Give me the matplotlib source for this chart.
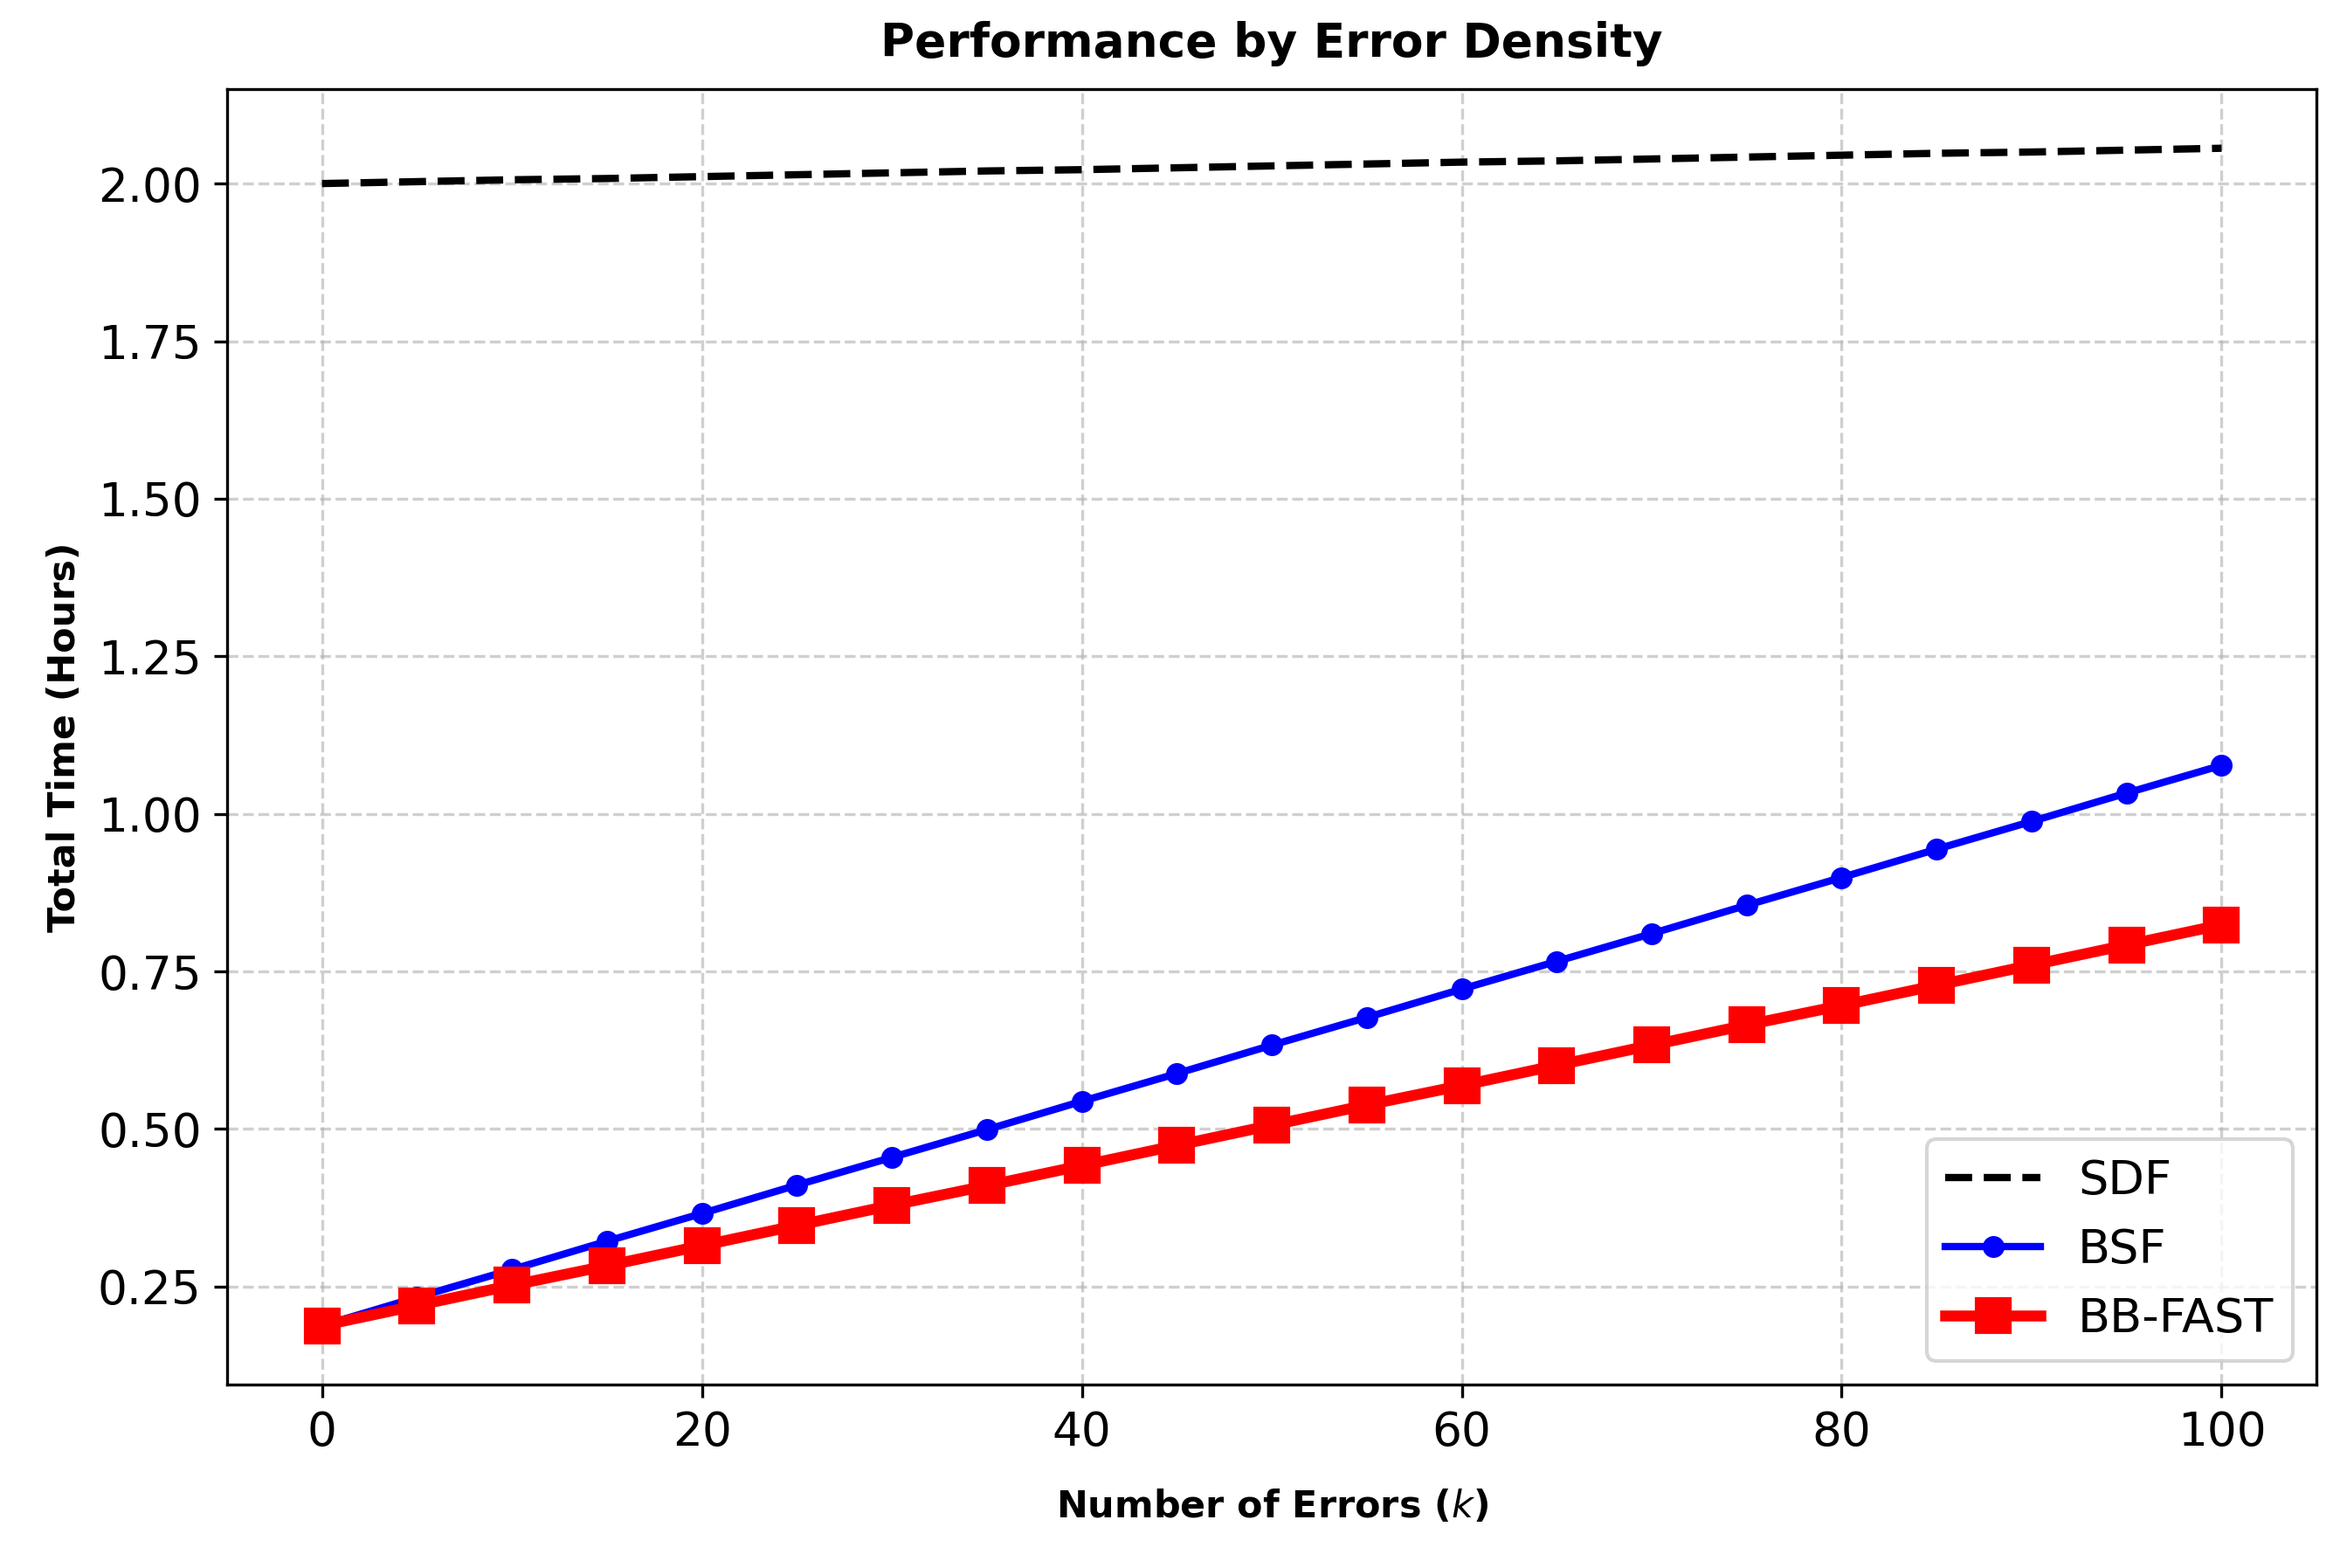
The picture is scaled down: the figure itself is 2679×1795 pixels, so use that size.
import numpy as np
import matplotlib
matplotlib.use("Agg")
import matplotlib.pyplot as plt

# Data
num_errors = [0, 5, 10, 15, 20, 25, 30, 35, 40, 45, 50,
              55, 60, 65, 70, 75, 80, 85, 90, 95, 100]
sdf_hours = [2.000, 2.003, 2.006, 2.008, 2.011, 2.014, 2.017, 2.020, 2.022, 2.025, 2.028,
             2.031, 2.034, 2.036, 2.039, 2.042, 2.045, 2.048, 2.050, 2.053, 2.056]
bsf_hours = [0.188, 0.233, 0.277, 0.322, 0.366, 0.411, 0.455, 0.499, 0.544, 0.588, 0.633,
             0.677, 0.722, 0.766, 0.810, 0.855, 0.899, 0.944, 0.988, 1.033, 1.077]
bbfast_hours = [0.188, 0.220, 0.252, 0.283, 0.315, 0.347, 0.379, 0.410, 0.442, 0.474, 0.506,
                0.538, 0.569, 0.601, 0.633, 0.665, 0.696, 0.728, 0.760, 0.792, 0.824]

fig, ax = plt.subplots(figsize=(2679 / 300, 1795 / 300), dpi=300)
fig.subplots_adjust(left=0.097, right=0.990, top=0.943, bottom=0.117)

ax.plot(num_errors, sdf_hours, 'k--', linewidth=2, label='SDF')
ax.plot(num_errors, bsf_hours, color='blue', marker='o', markersize=5,
        linewidth=2, label='BSF')
ax.plot(num_errors, bbfast_hours, color='red', marker='s', markersize=9,
        linewidth=3, label='BB-FAST')

ax.set_title('Performance by Error Density', fontsize=12.8, fontweight='bold', pad=9)
ax.set_xlabel('Number of Errors ($k$)', fontsize=10.3, fontweight='bold', labelpad=9)
ax.set_ylabel('Total Time (Hours)', fontsize=10.3, fontweight='bold')
ax.tick_params(labelsize=12.8)
ax.set_yticks([0.25, 0.50, 0.75, 1.00, 1.25, 1.50, 1.75, 2.00])
ax.grid(True, linestyle='--', alpha=0.6)
ax.legend(loc='lower right', fontsize=13)

plt.savefig('out.png', dpi=300)
